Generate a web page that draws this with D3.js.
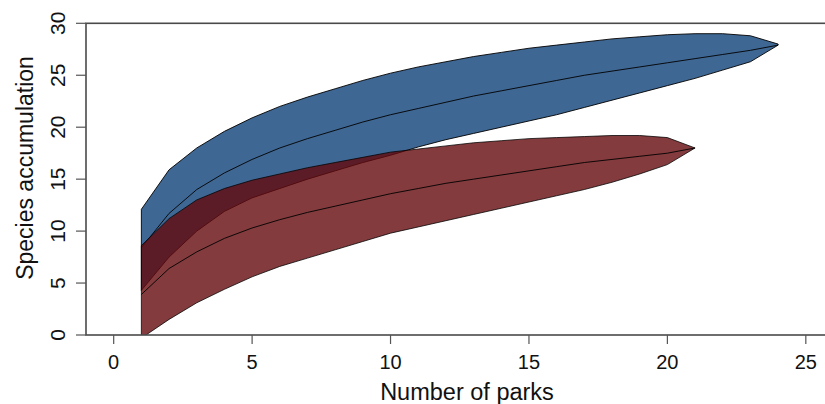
<!DOCTYPE html>
<html>
<head>
<meta charset="utf-8">
<script src="https://cdn.jsdelivr.net/npm/d3@7"></script>
<style>
    body { margin: 0; background: #fff; overflow: hidden; }
    svg { display: block; }
    svg text { font-family: 'Liberation Sans', Arial, sans-serif; fill: #111; }
</style>
</head>
<body>
<svg id="Chart" width="825" height="404"></svg>
<script>
// blue group (24 parks)
var parksBlue = [1, 2, 3, 4, 5, 6, 7, 8, 9, 10, 11, 12, 13, 14, 15, 16, 17, 18, 19, 20, 21, 22, 23, 24];
var blueUpper = [12.1, 15.9, 18.0, 19.6, 20.9, 22.0, 22.9, 23.7, 24.5, 25.2, 25.8, 26.3, 26.8, 27.2, 27.6, 27.9, 28.2, 28.5, 28.7, 28.9, 29.0, 29.0, 28.8, 28.0];
var blueMean = [8.4, 11.7, 14.0, 15.6, 16.9, 18.0, 18.9, 19.7, 20.5, 21.2, 21.8, 22.4, 23.0, 23.5, 24.0, 24.5, 25.0, 25.4, 25.8, 26.2, 26.6, 27.0, 27.4, 27.9];
var blueLower = [4.3, 7.5, 10.0, 11.9, 13.2, 14.1, 15.0, 15.8, 16.6, 17.3, 18.1, 18.8, 19.4, 20.0, 20.6, 21.2, 21.9, 22.6, 23.3, 24.0, 24.7, 25.5, 26.3, 27.9];
// red group (21 parks)
var parksRed = [1, 2, 3, 4, 5, 6, 7, 8, 9, 10, 11, 12, 13, 14, 15, 16, 17, 18, 19, 20, 21];
var redUpper = [8.6, 11.2, 13.0, 14.1, 14.9, 15.5, 16.1, 16.6, 17.1, 17.6, 17.9, 18.2, 18.5, 18.7, 18.9, 19.0, 19.1, 19.2, 19.2, 19.0, 18.0];
var redMean = [3.9, 6.4, 8.0, 9.3, 10.3, 11.1, 11.8, 12.4, 13.0, 13.6, 14.1, 14.6, 15.0, 15.4, 15.8, 16.2, 16.6, 16.9, 17.2, 17.5, 18.0];
var redLower = [-0.3, 1.5, 3.1, 4.4, 5.6, 6.6, 7.4, 8.2, 9.0, 9.8, 10.4, 11.0, 11.6, 12.2, 12.8, 13.4, 14.0, 14.7, 15.5, 16.4, 18.0];

var xTicks = [0, 5, 10, 15, 20, 25];
var yTicks = [0, 5, 10, 15, 20, 25, 30];

var svg = d3.select('#Chart');
var plotLeft = 86, plotRight = 833.5, plotTop = 23.3, plotBottom = 335;

var xScale = d3.scaleLinear().domain([-1, 26]).range([plotLeft, plotRight]);
var yScale = d3.scaleLinear().domain([0, 30]).range([plotBottom, plotTop]);

svg.append('defs').append('clipPath').attr('id', 'plotClip')
    .append('rect')
    .attr('x', plotLeft).attr('y', plotTop)
    .attr('width', plotRight - plotLeft).attr('height', plotBottom - plotTop);

var line = d3.line()
    .x(function (d) { return xScale(d[0]); })
    .y(function (d) { return yScale(d[1]); });

function band(xs, upper, lower) {
    var pts = xs.map(function (x, i) { return [x, upper[i]]; });
    for (var i = xs.length - 1; i >= 0; i--) pts.push([xs[i], lower[i]]);
    return line(pts) + 'Z';
}

var plot = svg.append('g').attr('clip-path', 'url(#plotClip)');

plot.append('path')
    .attr('d', band(parksBlue, blueUpper, blueLower))
    .attr('fill', '#3f6793')
    .attr('stroke', '#000')
    .attr('stroke-width', 0.9);
plot.append('path')
    .attr('d', line(parksBlue.map(function (x, i) { return [x, blueMean[i]]; })))
    .attr('fill', 'none')
    .attr('stroke', '#000')
    .attr('stroke-width', 0.9);

plot.append('path')
    .attr('d', band(parksRed, redUpper, redLower))
    .attr('fill', 'rgba(100,10,12,0.8)')
    .attr('stroke', 'rgba(0,0,0,0.85)')
    .attr('stroke-width', 0.9);
plot.append('path')
    .attr('d', line(parksRed.map(function (x, i) { return [x, redMean[i]]; })))
    .attr('fill', 'none')
    .attr('stroke', '#000')
    .attr('stroke-width', 0.9);

// box
svg.append('rect')
    .attr('x', plotLeft).attr('y', plotTop)
    .attr('width', plotRight - plotLeft).attr('height', plotBottom - plotTop)
    .attr('fill', 'none')
    .attr('stroke', '#4a4a4a')
    .attr('stroke-width', 1.6);

// x axis
var xAxis = svg.append('g').attr('class', 'x axis');
xAxis.selectAll('line')
    .data(xTicks)
    .enter()
    .append('line')
    .attr('x1', function (d) { return xScale(d); })
    .attr('x2', function (d) { return xScale(d); })
    .attr('y1', plotBottom)
    .attr('y2', plotBottom + 9)
    .attr('stroke', '#555')
    .attr('stroke-width', 1.2);
xAxis.selectAll('text')
    .data(xTicks)
    .enter()
    .append('text')
    .attr('x', function (d) { return xScale(d); })
    .attr('y', 369)
    .attr('text-anchor', 'middle')
    .style('font-size', '20px')
    .text(function (d) { return d; });
svg.append('text')
    .attr('x', 467)
    .attr('y', 400)
    .attr('text-anchor', 'middle')
    .style('font-size', '23.5px')
    .text('Number of parks');

// y axis
var yAxis = svg.append('g').attr('class', 'y axis');
yAxis.selectAll('line')
    .data(yTicks)
    .enter()
    .append('line')
    .attr('x1', plotLeft - 10)
    .attr('x2', plotLeft)
    .attr('y1', function (d) { return yScale(d); })
    .attr('y2', function (d) { return yScale(d); })
    .attr('stroke', '#555')
    .attr('stroke-width', 1.2);
yAxis.selectAll('text')
    .data(yTicks)
    .enter()
    .append('text')
    .attr('transform', function (d) { return 'translate(65,' + yScale(d) + ') rotate(-90)'; })
    .attr('text-anchor', 'middle')
    .style('font-size', '21px')
    .text(function (d) { return d; });
svg.append('text')
    .attr('transform', 'translate(33,168) rotate(-90)')
    .attr('text-anchor', 'middle')
    .style('font-size', '23px')
    .text('Species accumulation');
</script>
</body>
</html>
